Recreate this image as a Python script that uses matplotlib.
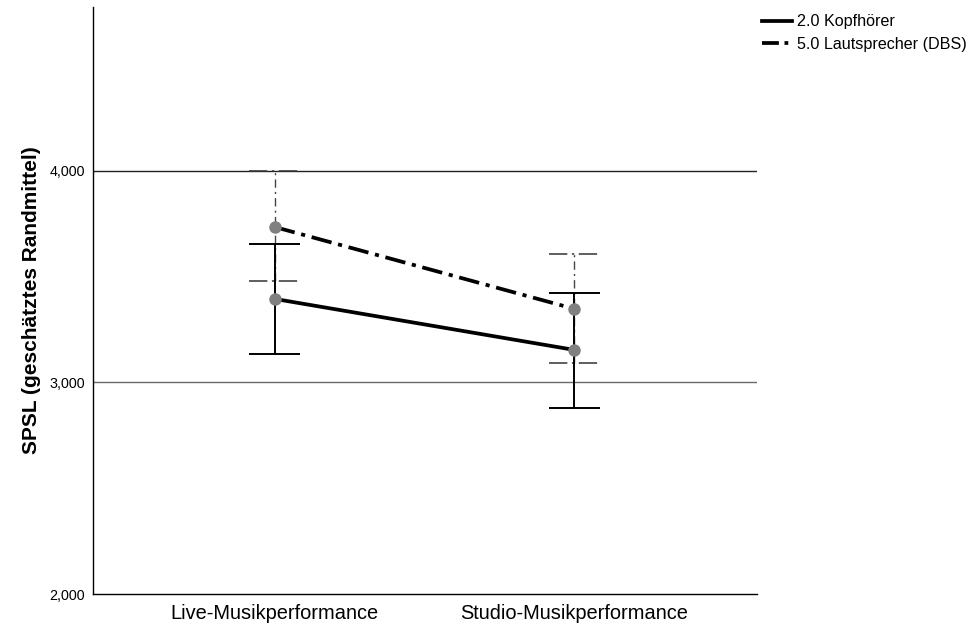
import numpy as np
import matplotlib.pyplot as plt
from matplotlib.lines import Line2D
from matplotlib.ticker import FuncFormatter

plt.rcParams['font.family'] = ['Liberation Sans', 'DejaVu Sans']

# data
categories = ['Live-Musikperformance', 'Studio-Musikperformance']
groups = ['2.0 Kopfhörer', '5.0 Lautsprecher (DBS)']
means_kopf = [3.395, 3.154]
ci_low_kopf = [3.135, 2.879]
ci_high_kopf = [3.655, 3.423]
means_laut = [3.735, 3.348]
ci_low_laut = [3.480, 3.092]
ci_high_laut = [4.000, 3.608]
y_ticks = [2.0, 3.0, 4.0]

x = np.arange(1, len(categories) + 1)
dashdot = (0, (5.5, 1.8, 1.1, 1.8))
cap = 0.085

fig = plt.figure(figsize=(9.76, 6.30), dpi=100)
ax = fig.add_axes([0.0953, 0.0571, 0.6803, 0.9318])

# gridlines
ax.axhline(3.0, color='#6a6a6a', lw=1.0, zorder=1)
ax.axhline(4.0, color='#222222', lw=1.0, zorder=1)

# error bars, Lautsprecher (thin dash-dot)
ax.vlines(x, ci_low_laut, ci_high_laut, color='#444444', lw=1.0,
          linestyles=[(0, (6, 3, 1.5, 3))], zorder=2)
ax.hlines(ci_low_laut, x - cap, x + cap, color='#333333', lw=1.1,
          linestyles=[(0, (12, 3, 1.5, 3))], zorder=2)
ax.hlines(ci_high_laut, x - cap, x + cap, color='#333333', lw=1.1,
          linestyles=[(0, (12, 3, 1.5, 3))], zorder=2)

# error bars, Kopfhörer (solid)
ax.vlines(x, ci_low_kopf, ci_high_kopf, color='black', lw=1.4, zorder=3)
ax.hlines(ci_low_kopf, x - cap, x + cap, color='black', lw=1.4, zorder=3)
ax.hlines(ci_high_kopf, x - cap, x + cap, color='black', lw=1.4, zorder=3)

# mean lines
ax.plot(x, means_kopf, color='black', lw=2.7, ls='-', zorder=4)
ax.plot(x, means_laut, color='black', lw=2.7, ls=dashdot, zorder=4)
ax.plot(x, means_kopf, 'o', color='#808080', ms=9, mec='none', zorder=5)
ax.plot(x, means_laut, 'o', color='#808080', ms=9, mec='none', zorder=5)

ax.set_xlim(1 - 182 / 300, 2 + 183 / 300)
ax.set_ylim(2.0, 4.775)
ax.set_xticks(x)
ax.set_xticklabels(categories, fontsize=14.4)
ax.set_yticks(y_ticks)
ax.yaxis.set_major_formatter(FuncFormatter(lambda v, p: f'{v:.3f}'.replace('.', ',')))
ax.tick_params(axis='y', length=0, labelsize=10.3, pad=6)
ax.tick_params(axis='x', length=0, pad=7)
ax.set_ylabel('SPSL (geschätztes Randmittel)', fontsize=15, fontweight='bold', labelpad=6)

for side in ['top', 'right']:
    ax.spines[side].set_visible(False)
for side in ['left', 'bottom']:
    ax.spines[side].set_color('black')
    ax.spines[side].set_linewidth(1.0)

handles = [Line2D([], [], color='black', lw=2.7, ls='-'),
           Line2D([], [], color='black', lw=2.7, ls=(0, (4.5, 1.5, 1.0, 1.5)))]
fig.legend(handles, groups, loc='upper left', bbox_to_anchor=(0.769, 0.995),
           frameon=False, fontsize=11.6, handlelength=1.9, handletextpad=0.3,
           labelspacing=0.45, borderaxespad=0.3)

fig.savefig('out.png', dpi=100)
